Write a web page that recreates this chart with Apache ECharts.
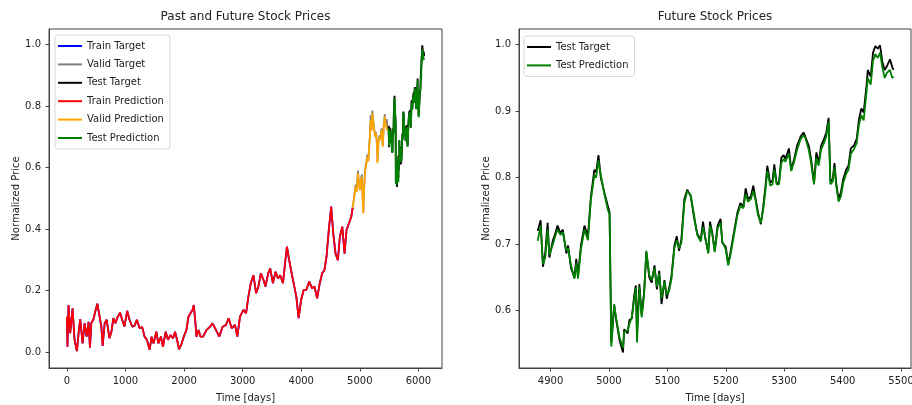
<!DOCTYPE html>
<html>
<head>
<meta charset="utf-8">
<script src="https://cdn.jsdelivr.net/npm/echarts@6/dist/echarts.min.js"></script>
<style>
  html, body { margin: 0; padding: 0; background: #fff; }
  #chart { width: 912px; height: 405px; }
</style>
</head>
<body>
<div id="chart"></div>
<script>
// ---- data ----

// train period (left panel), target and prediction overlap at this scale
const trainDays = [
  0, 10, 28, 57, 97, 131, 171, 211, 228, 268,
  303, 337, 371, 394, 417, 451, 485, 520, 554, 588,
  611, 645, 679, 726, 760, 794, 829, 868, 909, 943,
  983, 1029, 1069, 1115, 1154, 1194, 1240, 1286, 1326, 1366,
  1412, 1446, 1480, 1527, 1561, 1606, 1640, 1686, 1726, 1767,
  1812, 1846, 1880, 1914, 1955, 1995, 2041, 2075, 2109, 2144,
  2166, 2189, 2212, 2247, 2281, 2326, 2384, 2441, 2487, 2544,
  2600, 2658, 2715, 2761, 2813, 2870, 2909, 2955, 3012, 3058,
  3098, 3139, 3184, 3230, 3269, 3310, 3355, 3389, 3436, 3470,
  3516, 3561, 3602, 3641, 3688, 3727, 3756, 3784, 3825, 3870,
  3916, 3955, 3997, 4041, 4087, 4134, 4185, 4225, 4271, 4316,
  4357, 4396, 4431, 4470, 4511, 4546, 4585, 4625, 4659, 4700,
  4739, 4773, 4813, 4854, 4877
]
const trainValues = [
  0.115, 0.017, 0.153, 0.061, 0.142, 0.040, 0.003, 0.083, 0.107, 0.028,
  0.094, 0.050, 0.098, 0.014, 0.094, 0.105, 0.132, 0.157, 0.121, 0.083,
  0.020, 0.094, 0.105, 0.045, 0.066, 0.110, 0.094, 0.115, 0.128, 0.105,
  0.083, 0.134, 0.105, 0.083, 0.085, 0.105, 0.078, 0.081, 0.050, 0.040,
  0.007, 0.050, 0.028, 0.066, 0.028, 0.050, 0.017, 0.066, 0.040, 0.055,
  0.045, 0.066, 0.040, 0.009, 0.026, 0.050, 0.072, 0.115, 0.126, 0.137,
  0.153, 0.105, 0.050, 0.072, 0.050, 0.050, 0.072, 0.082, 0.093, 0.072,
  0.050, 0.082, 0.088, 0.110, 0.077, 0.088, 0.050, 0.115, 0.137, 0.126,
  0.180, 0.224, 0.250, 0.191, 0.213, 0.256, 0.235, 0.213, 0.256, 0.272,
  0.224, 0.261, 0.239, 0.250, 0.224, 0.294, 0.343, 0.310, 0.267, 0.224,
  0.180, 0.110, 0.169, 0.202, 0.202, 0.229, 0.207, 0.213, 0.175, 0.224,
  0.256, 0.267, 0.310, 0.397, 0.473, 0.386, 0.320, 0.299, 0.375, 0.408,
  0.320, 0.397, 0.418, 0.440, 0.470
]

// validation period (left panel)
const validDays = [
  4877, 4889, 4910, 4928, 4945, 4968, 4985, 5002, 5020, 5036,
  5048, 5060, 5075, 5094, 5110, 5129, 5145, 5156, 5172, 5185,
  5200, 5214, 5228, 5242, 5260, 5276, 5290, 5300, 5318, 5334,
  5350, 5369, 5380, 5391, 5408, 5425, 5440, 5460, 5472, 5487
]
const validTarget = [
  0.472, 0.486, 0.516, 0.545, 0.524, 0.590, 0.548, 0.530, 0.566, 0.578,
  0.505, 0.455, 0.545, 0.600, 0.615, 0.642, 0.625, 0.662, 0.708, 0.770,
  0.725, 0.786, 0.752, 0.748, 0.705, 0.716, 0.682, 0.620, 0.685, 0.705,
  0.694, 0.728, 0.702, 0.672, 0.740, 0.774, 0.744, 0.758, 0.724, 0.726
]
const validPred = [
  0.470, 0.484, 0.512, 0.538, 0.520, 0.581, 0.545, 0.527, 0.560, 0.570,
  0.500, 0.451, 0.540, 0.592, 0.610, 0.636, 0.620, 0.657, 0.700, 0.755,
  0.720, 0.777, 0.750, 0.744, 0.700, 0.712, 0.680, 0.614, 0.680, 0.701,
  0.690, 0.723, 0.700, 0.668, 0.730, 0.766, 0.740, 0.744, 0.720, 0.723
]

// test period, days as labelled in the right panel
const testDays = [
  4878, 4883, 4887, 4891, 4895, 4898, 4904, 4908, 4912, 4917,
  4921, 4927, 4930, 4935, 4941, 4944, 4947, 4952, 4958, 4964,
  4969, 4975, 4978, 4982, 4986, 4992, 4998, 5001, 5004, 5009,
  5012, 5018, 5024, 5026, 5032, 5035, 5039, 5043, 5046, 5048,
  5052, 5056, 5060, 5064, 5069, 5073, 5078, 5082, 5086, 5090,
  5095, 5099, 5103, 5107, 5112, 5116, 5120, 5124, 5129, 5134,
  5140, 5146, 5151, 5157, 5161, 5165, 5170, 5173, 5177, 5181,
  5186, 5191, 5194, 5200, 5204, 5208, 5214, 5220, 5225, 5230,
  5234, 5238, 5243, 5247, 5251, 5255, 5260, 5264, 5268, 5271,
  5276, 5280, 5283, 5287, 5291, 5295, 5299, 5302, 5308, 5312,
  5317, 5322, 5328, 5333, 5336, 5342, 5346, 5351, 5355, 5359,
  5363, 5368, 5372, 5376, 5379, 5383, 5386, 5389, 5393, 5397,
  5401, 5406, 5410, 5414, 5419, 5424, 5428, 5432, 5436, 5441,
  5443, 5448, 5452, 5456, 5460, 5464, 5468, 5472, 5476, 5481,
  5485, 5487
]
const testTarget = [
  0.720, 0.736, 0.666, 0.688, 0.732, 0.680, 0.706, 0.716, 0.728, 0.716,
  0.722, 0.686, 0.698, 0.664, 0.650, 0.678, 0.652, 0.698, 0.728, 0.712,
  0.771, 0.812, 0.808, 0.834, 0.800, 0.778, 0.758, 0.748, 0.552, 0.608,
  0.588, 0.556, 0.537, 0.572, 0.566, 0.586, 0.588, 0.622, 0.638, 0.566,
  0.640, 0.594, 0.626, 0.688, 0.650, 0.642, 0.668, 0.632, 0.660, 0.610,
  0.646, 0.618, 0.634, 0.652, 0.698, 0.712, 0.690, 0.708, 0.768, 0.782,
  0.772, 0.738, 0.716, 0.706, 0.734, 0.708, 0.688, 0.734, 0.716, 0.690,
  0.728, 0.738, 0.702, 0.696, 0.670, 0.688, 0.718, 0.748, 0.762, 0.756,
  0.784, 0.768, 0.772, 0.788, 0.768, 0.748, 0.730, 0.756, 0.788, 0.818,
  0.792, 0.796, 0.820, 0.792, 0.792, 0.830, 0.834, 0.828, 0.844, 0.812,
  0.828, 0.848, 0.862, 0.868, 0.862, 0.848, 0.828, 0.792, 0.838, 0.822,
  0.848, 0.858, 0.868, 0.890, 0.794, 0.798, 0.822, 0.792, 0.768, 0.778,
  0.798, 0.812, 0.818, 0.844, 0.848, 0.858, 0.888, 0.904, 0.898, 0.940,
  0.962, 0.952, 0.988, 0.998, 0.994, 0.999, 0.974, 0.962, 0.968, 0.978,
  0.966, 0.962
]
const testPred = [
  0.705, 0.728, 0.670, 0.680, 0.722, 0.684, 0.700, 0.712, 0.722, 0.714,
  0.718, 0.690, 0.694, 0.668, 0.648, 0.672, 0.648, 0.692, 0.722, 0.706,
  0.766, 0.804, 0.800, 0.826, 0.804, 0.776, 0.752, 0.745, 0.546, 0.610,
  0.590, 0.560, 0.544, 0.568, 0.570, 0.580, 0.590, 0.616, 0.634, 0.552,
  0.636, 0.590, 0.622, 0.690, 0.654, 0.646, 0.664, 0.636, 0.656, 0.618,
  0.644, 0.624, 0.630, 0.648, 0.694, 0.706, 0.694, 0.702, 0.762, 0.780,
  0.774, 0.742, 0.714, 0.704, 0.726, 0.710, 0.686, 0.728, 0.714, 0.688,
  0.724, 0.732, 0.704, 0.692, 0.668, 0.684, 0.714, 0.744, 0.758, 0.754,
  0.776, 0.764, 0.768, 0.780, 0.766, 0.744, 0.732, 0.752, 0.782, 0.810,
  0.788, 0.790, 0.812, 0.790, 0.790, 0.822, 0.828, 0.824, 0.836, 0.810,
  0.824, 0.842, 0.858, 0.864, 0.860, 0.842, 0.822, 0.790, 0.830, 0.818,
  0.842, 0.852, 0.862, 0.884, 0.790, 0.794, 0.816, 0.788, 0.764, 0.772,
  0.792, 0.806, 0.812, 0.836, 0.842, 0.852, 0.880, 0.894, 0.886, 0.930,
  0.950, 0.940, 0.976, 0.986, 0.980, 0.988, 0.966, 0.950, 0.958, 0.962,
  0.950, 0.952
]
// in the left panel the test period sits after the validation period
const testOffset = 610

// tick labels
const leftXTicks = [0, 1000, 2000, 3000, 4000, 5000, 6000]
const leftYTicks = [0, 0.2, 0.4, 0.6, 0.8, 1.0]
const rightXTicks = [4900, 5000, 5100, 5200, 5300, 5400, 5500]
const rightYTicks = [0.6, 0.7, 0.8, 0.9, 1.0]

// ---- chart ----
const FONT = 'DejaVu Sans'
const LINE_ICON = 'path://M0,0 L24,0 L24,2 L0,2 Z'
const pairs = (xs, ys, shift = 0) => xs.map((x, i) => [x + shift, ys[i]])

const chart = echarts.init(document.getElementById('chart'))

function makeX(gridIndex, min, max, ticks) {
  return {
    type: 'value',
    gridIndex,
    min,
    max,
    name: 'Time [days]',
    nameLocation: 'middle',
    nameGap: 25,
    nameTextStyle: { fontFamily: FONT, fontSize: 10, color: '#222' },
    axisLine: { show: true, onZero: false, lineStyle: { color: '#444', width: 1 } },
    axisTick: { show: true, length: 3.5, customValues: ticks, lineStyle: { color: '#444' } },
    axisLabel: {
      customValues: ticks,
      margin: 8,
      fontFamily: FONT,
      fontSize: 10,
      color: '#222',
      formatter: v => String(v)
    },
    splitLine: { show: false }
  }
}

function makeY(gridIndex, min, max, ticks) {
  return {
    type: 'value',
    gridIndex,
    min,
    max,
    name: 'Normalized Price',
    nameLocation: 'middle',
    nameRotate: 90,
    nameGap: 28,
    nameTextStyle: { fontFamily: FONT, fontSize: 10, color: '#222' },
    axisLine: { show: true, onZero: false, lineStyle: { color: '#444', width: 1 } },
    axisTick: { show: true, length: 3.5, customValues: ticks, lineStyle: { color: '#444' } },
    axisLabel: {
      customValues: ticks,
      margin: 8,
      fontFamily: FONT,
      fontSize: 10,
      color: '#222',
      formatter: v => v.toFixed(1)
    },
    splitLine: { show: false }
  }
}

function line(name, data, color, xi) {
  return {
    name,
    type: 'line',
    xAxisIndex: xi,
    yAxisIndex: xi,
    data,
    symbol: 'none',
    lineStyle: { color, width: 1.8 },
    itemStyle: { color },
    silent: true
  }
}

const legendBase = {
  orient: 'vertical',
  itemWidth: 24,
  itemHeight: 10,
  itemGap: 8.4,
  padding: [6, 6, 6, 3],
  backgroundColor: '#fff',
  borderColor: '#d6d6d6',
  borderWidth: 1,
  borderRadius: 3,
  icon: LINE_ICON,
  textStyle: { fontFamily: FONT, fontSize: 10, color: '#222' },
  selectedMode: false
}

const option = {
  animation: false,
  backgroundColor: '#fff',
  title: [
    {
      text: 'Past and Future Stock Prices',
      left: 245.5,
      textAlign: 'center',
      top: 11,
      padding: 0,
      textStyle: { fontFamily: FONT, fontSize: 12, fontWeight: 'normal', color: '#222' }
    },
    {
      text: 'Future Stock Prices',
      left: 715,
      textAlign: 'center',
      top: 11,
      padding: 0,
      textStyle: { fontFamily: FONT, fontSize: 12, fontWeight: 'normal', color: '#222' }
    }
  ],
  grid: [
    {
      left: 49, top: 29, width: 393, height: 339,
      show: true, borderColor: '#444', borderWidth: 1,
      containLabel: false, outerBoundsMode: 'none'
    },
    {
      left: 519, top: 29, width: 392, height: 339,
      show: true, borderColor: '#444', borderWidth: 1,
      containLabel: false, outerBoundsMode: 'none'
    }
  ],
  xAxis: [
    makeX(0, -305, 6402, leftXTicks),
    makeX(1, 4846, 5517, rightXTicks)
  ],
  yAxis: [
    makeY(0, -0.052, 1.051, leftYTicks),
    makeY(1, 0.5138, 1.0236, rightYTicks)
  ],
  legend: [
    Object.assign({}, legendBase, {
      left: 55,
      top: 35,
      data: ['Train Target', 'Valid Target', 'Test Target', 'Train Prediction', 'Valid Prediction', 'Test Prediction']
    }),
    Object.assign({}, legendBase, {
      left: 524,
      top: 36,
      data: ['Test Target', 'Test Prediction']
    })
  ],
  series: [
    line('Train Target', pairs(trainDays, trainValues), '#0000ff', 0),
    line('Valid Target', pairs(validDays, validTarget), '#808080', 0),
    line('Test Target', pairs(testDays, testTarget, testOffset), '#000000', 0),
    line('Train Prediction', pairs(trainDays, trainValues), '#ff0000', 0),
    line('Valid Prediction', pairs(validDays, validPred), '#ffa500', 0),
    line('Test Prediction', pairs(testDays, testPred, testOffset), '#008000', 0),
    line('Test Target', pairs(testDays, testTarget), '#000000', 1),
    line('Test Prediction', pairs(testDays, testPred), '#008000', 1)
  ]
}

chart.setOption(option)
</script>
</body>
</html>
